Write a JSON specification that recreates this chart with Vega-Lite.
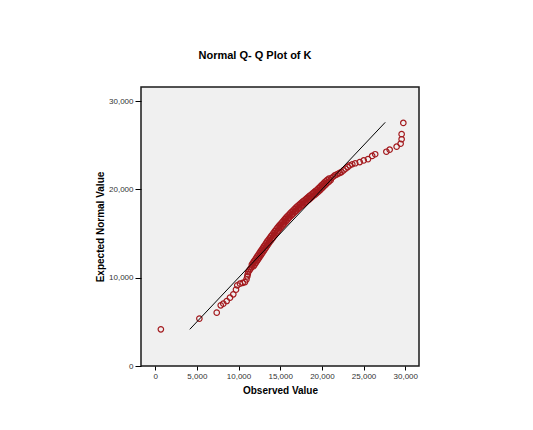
{
  "$schema": "https://vega.github.io/schema/vega-lite/v6.json",
  "autosize": "none",
  "width": 278,
  "height": 279,
  "padding": {"left": 141, "top": 87, "right": 114, "bottom": 64},
  "background": "#ffffff",
  "config": {
    "font": "Liberation Sans",
    "view": {"fill": "#f0f0f0", "stroke": "#1a1a1a", "strokeWidth": 1.5},
    "axis": {
      "domain": false,
      "grid": false,
      "tickColor": "#000000",
      "labelPadding": 2,
      "labelFontSize": 8,
      "labelColor": "#333333",
      "labelFont": "Liberation Sans",
      "titleFont": "Liberation Sans",
      "titleFontSize": 10,
      "titleFontWeight": "bold",
      "titleColor": "#000000"
    }
  },
  "title": {
    "text": "Normal Q- Q Plot of K",
    "font": "Liberation Sans",
    "fontSize": 11,
    "fontWeight": "bold",
    "color": "#000000",
    "anchor": "middle",
    "dx": -25,
    "offset": 26
  },
  "datasets": {
    "pts": [
      {"observed": 682, "expected": 4156},
      {"observed": 5303, "expected": 5366},
      {"observed": 7385, "expected": 6045},
      {"observed": 7864, "expected": 6872},
      {"observed": 8176, "expected": 7064},
      {"observed": 8582, "expected": 7358},
      {"observed": 8978, "expected": 7743},
      {"observed": 9372, "expected": 8116},
      {"observed": 9696, "expected": 8649},
      {"observed": 9851, "expected": 9135},
      {"observed": 10175, "expected": 9328},
      {"observed": 10500, "expected": 9420},
      {"observed": 10773, "expected": 9509},
      {"observed": 10950, "expected": 9800},
      {"observed": 11050, "expected": 10150},
      {"observed": 11110, "expected": 10400},
      {"observed": 11168, "expected": 10641},
      {"observed": 11301, "expected": 10830},
      {"observed": 11434, "expected": 11018},
      {"observed": 11567, "expected": 11207},
      {"observed": 11600, "expected": 11491},
      {"observed": 11800, "expected": 11301},
      {"observed": 11733, "expected": 11679},
      {"observed": 11933, "expected": 11489},
      {"observed": 11866, "expected": 11868},
      {"observed": 12066, "expected": 11678},
      {"observed": 11999, "expected": 12057},
      {"observed": 12199, "expected": 11867},
      {"observed": 12132, "expected": 12245},
      {"observed": 12332, "expected": 12055},
      {"observed": 12265, "expected": 12434},
      {"observed": 12465, "expected": 12244},
      {"observed": 12398, "expected": 12623},
      {"observed": 12598, "expected": 12433},
      {"observed": 12531, "expected": 12811},
      {"observed": 12731, "expected": 12621},
      {"observed": 12664, "expected": 13000},
      {"observed": 12864, "expected": 12810},
      {"observed": 12797, "expected": 13189},
      {"observed": 12997, "expected": 12999},
      {"observed": 12930, "expected": 13377},
      {"observed": 13130, "expected": 13187},
      {"observed": 13063, "expected": 13566},
      {"observed": 13263, "expected": 13376},
      {"observed": 13196, "expected": 13755},
      {"observed": 13396, "expected": 13565},
      {"observed": 13329, "expected": 13943},
      {"observed": 13529, "expected": 13753},
      {"observed": 13462, "expected": 14132},
      {"observed": 13662, "expected": 13942},
      {"observed": 13612, "expected": 14322},
      {"observed": 13812, "expected": 14132},
      {"observed": 13761, "expected": 14511},
      {"observed": 13961, "expected": 14321},
      {"observed": 13911, "expected": 14701},
      {"observed": 14111, "expected": 14511},
      {"observed": 14061, "expected": 14891},
      {"observed": 14261, "expected": 14701},
      {"observed": 14210, "expected": 15080},
      {"observed": 14410, "expected": 14890},
      {"observed": 14360, "expected": 15270},
      {"observed": 14560, "expected": 15080},
      {"observed": 14509, "expected": 15459},
      {"observed": 14709, "expected": 15269},
      {"observed": 14659, "expected": 15649},
      {"observed": 14859, "expected": 15459},
      {"observed": 14809, "expected": 15813},
      {"observed": 15009, "expected": 15623},
      {"observed": 14958, "expected": 15977},
      {"observed": 15158, "expected": 15787},
      {"observed": 15108, "expected": 16141},
      {"observed": 15308, "expected": 15951},
      {"observed": 15258, "expected": 16305},
      {"observed": 15458, "expected": 16115},
      {"observed": 15407, "expected": 16470},
      {"observed": 15607, "expected": 16280},
      {"observed": 15557, "expected": 16634},
      {"observed": 15757, "expected": 16444},
      {"observed": 15706, "expected": 16798},
      {"observed": 15906, "expected": 16608},
      {"observed": 15856, "expected": 16962},
      {"observed": 16056, "expected": 16772},
      {"observed": 16027, "expected": 17124},
      {"observed": 16227, "expected": 16934},
      {"observed": 16198, "expected": 17285},
      {"observed": 16398, "expected": 17095},
      {"observed": 16369, "expected": 17447},
      {"observed": 16569, "expected": 17257},
      {"observed": 16540, "expected": 17609},
      {"observed": 16740, "expected": 17419},
      {"observed": 16711, "expected": 17770},
      {"observed": 16911, "expected": 17580},
      {"observed": 16882, "expected": 17932},
      {"observed": 17082, "expected": 17742},
      {"observed": 17053, "expected": 18094},
      {"observed": 17253, "expected": 17904},
      {"observed": 17224, "expected": 18230},
      {"observed": 17424, "expected": 18040},
      {"observed": 17395, "expected": 18366},
      {"observed": 17595, "expected": 18176},
      {"observed": 17566, "expected": 18502},
      {"observed": 17766, "expected": 18312},
      {"observed": 17737, "expected": 18637},
      {"observed": 17937, "expected": 18447},
      {"observed": 17908, "expected": 18773},
      {"observed": 18108, "expected": 18583},
      {"observed": 18079, "expected": 18909},
      {"observed": 18279, "expected": 18719},
      {"observed": 18250, "expected": 19045},
      {"observed": 18450, "expected": 18855},
      {"observed": 18421, "expected": 19179},
      {"observed": 18621, "expected": 18989},
      {"observed": 18592, "expected": 19314},
      {"observed": 18792, "expected": 19124},
      {"observed": 18763, "expected": 19448},
      {"observed": 18963, "expected": 19258},
      {"observed": 18934, "expected": 19582},
      {"observed": 19134, "expected": 19392},
      {"observed": 19105, "expected": 19716},
      {"observed": 19305, "expected": 19526},
      {"observed": 19276, "expected": 19851},
      {"observed": 19476, "expected": 19661},
      {"observed": 19447, "expected": 19985},
      {"observed": 19647, "expected": 19795},
      {"observed": 19615, "expected": 20142},
      {"observed": 19815, "expected": 19952},
      {"observed": 19782, "expected": 20298},
      {"observed": 19982, "expected": 20108},
      {"observed": 19950, "expected": 20455},
      {"observed": 20150, "expected": 20265},
      {"observed": 20117, "expected": 20611},
      {"observed": 20317, "expected": 20421},
      {"observed": 20285, "expected": 20768},
      {"observed": 20485, "expected": 20578},
      {"observed": 20452, "expected": 20924},
      {"observed": 20652, "expected": 20734},
      {"observed": 20651, "expected": 21076},
      {"observed": 20851, "expected": 20886},
      {"observed": 20850, "expected": 21228},
      {"observed": 21050, "expected": 21038},
      {"observed": 21148, "expected": 21284},
      {"observed": 21347, "expected": 21436},
      {"observed": 21546, "expected": 21588},
      {"observed": 21747, "expected": 21681},
      {"observed": 21947, "expected": 21775},
      {"observed": 22148, "expected": 21868},
      {"observed": 22348, "expected": 21961},
      {"observed": 22597, "expected": 22151},
      {"observed": 22845, "expected": 22340},
      {"observed": 23094, "expected": 22530},
      {"observed": 23342, "expected": 22719},
      {"observed": 23650, "expected": 22850},
      {"observed": 24000, "expected": 22960},
      {"observed": 24539, "expected": 23093},
      {"observed": 25017, "expected": 23286},
      {"observed": 25533, "expected": 23432},
      {"observed": 26035, "expected": 23795},
      {"observed": 26394, "expected": 23987},
      {"observed": 27735, "expected": 24270},
      {"observed": 28130, "expected": 24497},
      {"observed": 28967, "expected": 24837},
      {"observed": 29446, "expected": 25176},
      {"observed": 29566, "expected": 25685},
      {"observed": 29566, "expected": 26262},
      {"observed": 29769, "expected": 27530}
    ],
    "ref": [
      {"observed": 4150, "expected": 4150},
      {"observed": 27600, "expected": 27600}
    ]
  },
  "layer": [
    {
      "data": {"name": "pts"},
      "mark": {"type": "point", "shape": "circle", "filled": false, "size": 30, "strokeWidth": 1.2, "color": "#a31a1e", "opacity": 1},
      "encoding": {
        "x": {
          "field": "observed", "type": "quantitative",
          "scale": {"domain": [-1700, 31650], "nice": false, "zero": false},
          "axis": {"values": [0, 5000, 10000, 15000, 20000, 25000, 30000], "format": ",d", "tickSize": 4, "title": "Observed Value", "titlePadding": 5}
        },
        "y": {
          "field": "expected", "type": "quantitative",
          "scale": {"domain": [0, 31600], "nice": false, "zero": false},
          "axis": {"values": [0, 10000, 20000, 30000], "format": ",d", "tickSize": 6, "title": "Expected Normal Value", "titlePadding": 3}
        }
      }
    },
    {
      "data": {"name": "ref"},
      "mark": {"type": "line", "color": "#000000", "strokeWidth": 1},
      "encoding": {
        "x": {"field": "observed", "type": "quantitative"},
        "y": {"field": "expected", "type": "quantitative"}
      }
    }
  ]
}
